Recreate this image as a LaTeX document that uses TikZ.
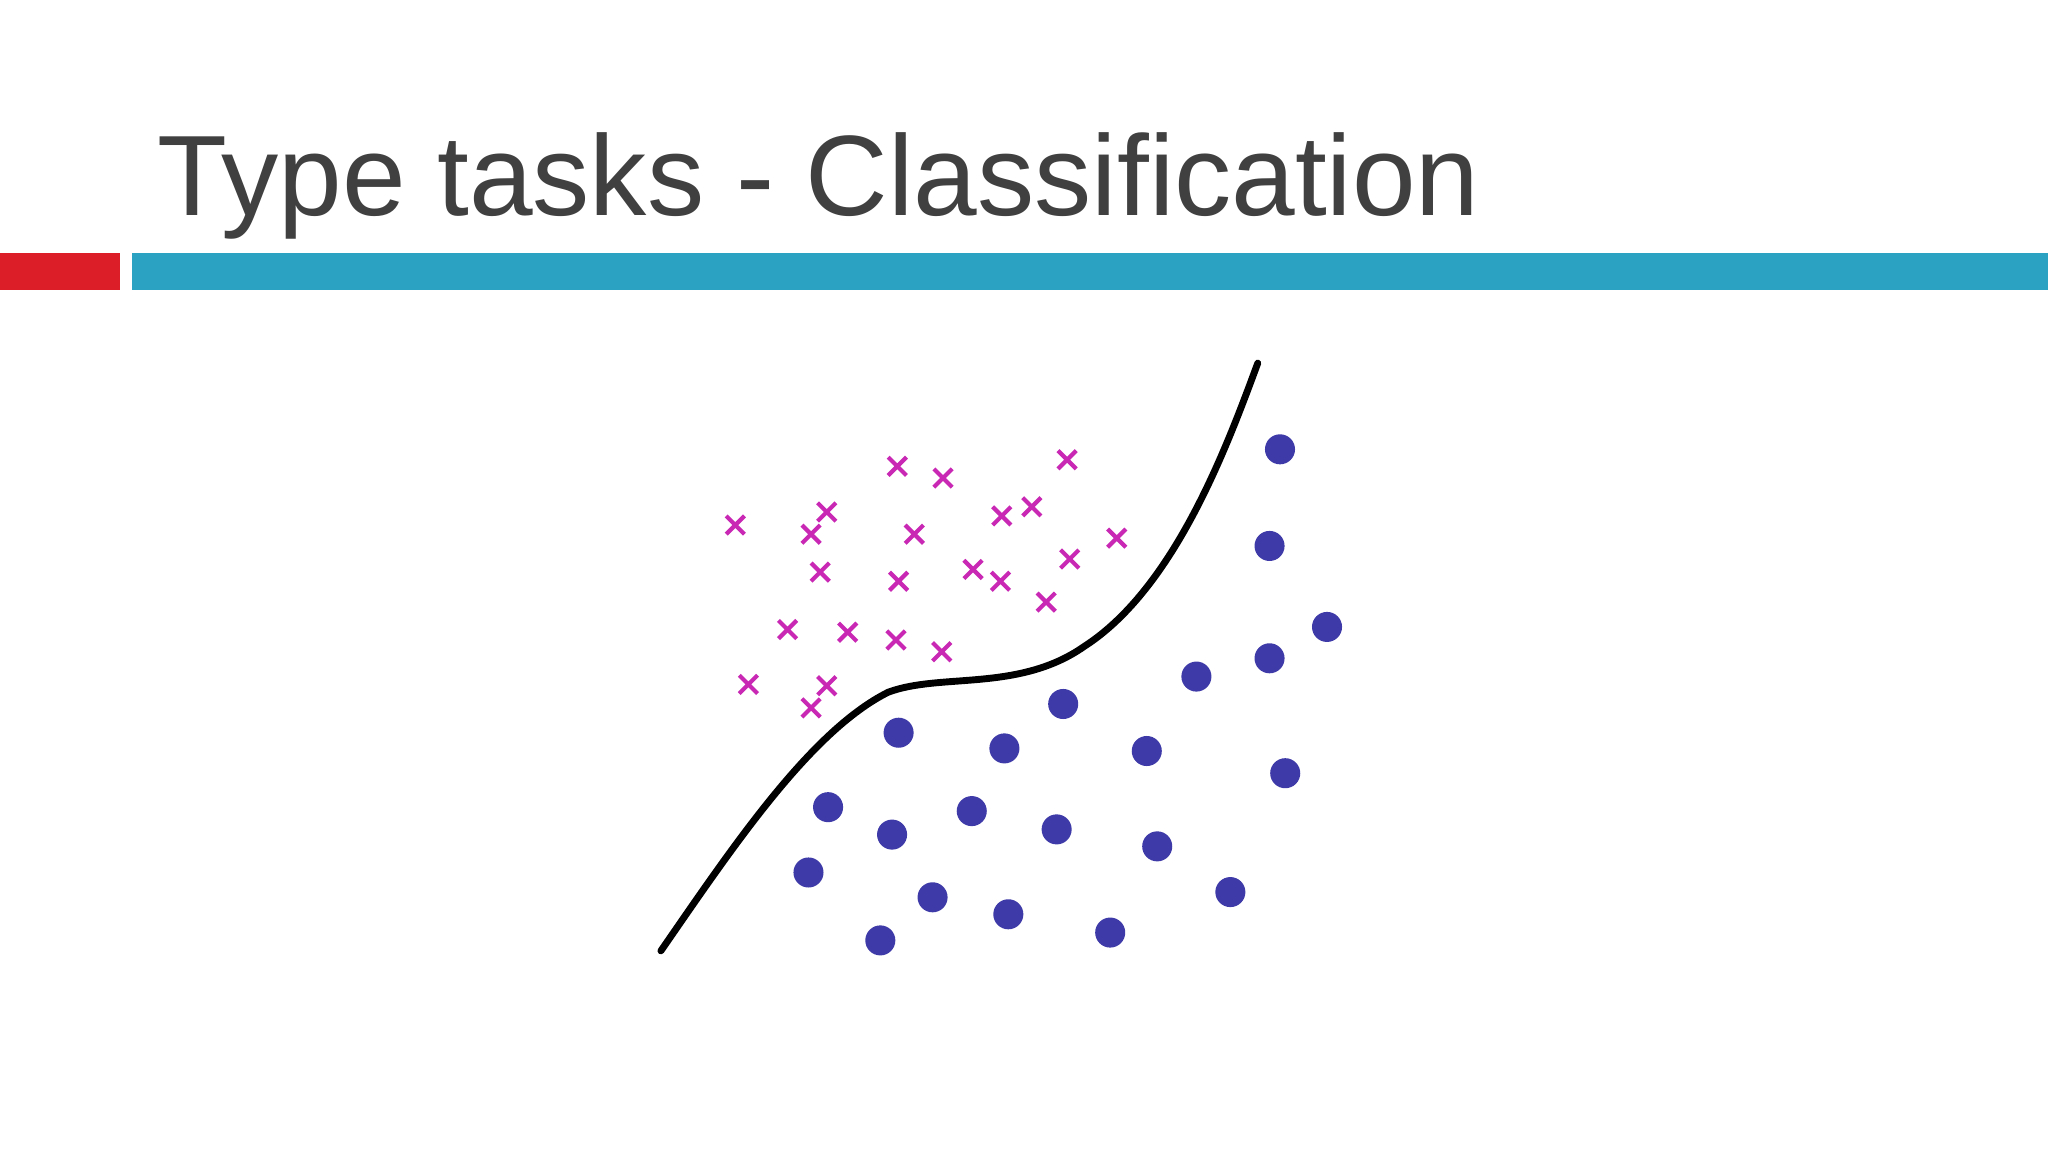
\documentclass[tikz,border=0pt]{standalone}
\usepackage{fontspec}
\setmainfont{Liberation Sans}
\definecolor{titlegray}{RGB}{64,64,64}
\definecolor{barred}{RGB}{220,30,40}
\definecolor{barblue}{RGB}{44,162,194}
\definecolor{xmag}{RGB}{200,40,180}
\definecolor{dotblue}{RGB}{62,58,168}
\begin{document}
\begin{tikzpicture}[x=0.01cm,y=-0.01cm,
  xmark/.style={xmag,line width=0.9pt},
  dotmark/.style={circle,fill=dotblue,inner sep=0pt,minimum size=0.23cm}]
\useasboundingbox[fill=white] (0,0) rectangle (1568,882);
\node[anchor=base west,text=titlegray,font=\fontsize{24.9}{30}\selectfont,inner sep=0pt] (title) at (120,165) {Type tasks - Classification};
\fill[barred] (0,194) rectangle (92,222);
\fill[barblue] (101,194) rectangle (1568,222);
\draw[line width=1.5pt,line cap=round] (506,728) .. controls (560,650) and (620,560) .. (680,530)
  .. controls (720,515) and (780,530) .. (830,495)
  .. controls (900,450) and (940,340) .. (963,278);
\foreach \x/\y in {563/402,633/392,621/409,687/357,722/366,817/352,700/409,767/395,790/388,855/412,628/438,688/445,745/436,766/445,819/428,801/461,603/482,649/484,686/490,721/499,573/524,633/525,621/542}
  \draw[xmark] (\x-7,\y-7) -- (\x+7,\y+7) (\x-7,\y+7) -- (\x+7,\y-7);
\foreach \x/\y [count=\i] in {980/344,972/418,1016/480,972/504,916/518,814/539,688/561,769/573,878/575,984/592,634/618,744/621,683/639,809/635,886/648,619/668,714/687,772/700,942/683,674/720,850/714}
  \node[dotmark] (d\i) at (\x,\y) {};
\end{tikzpicture}
\end{document}
